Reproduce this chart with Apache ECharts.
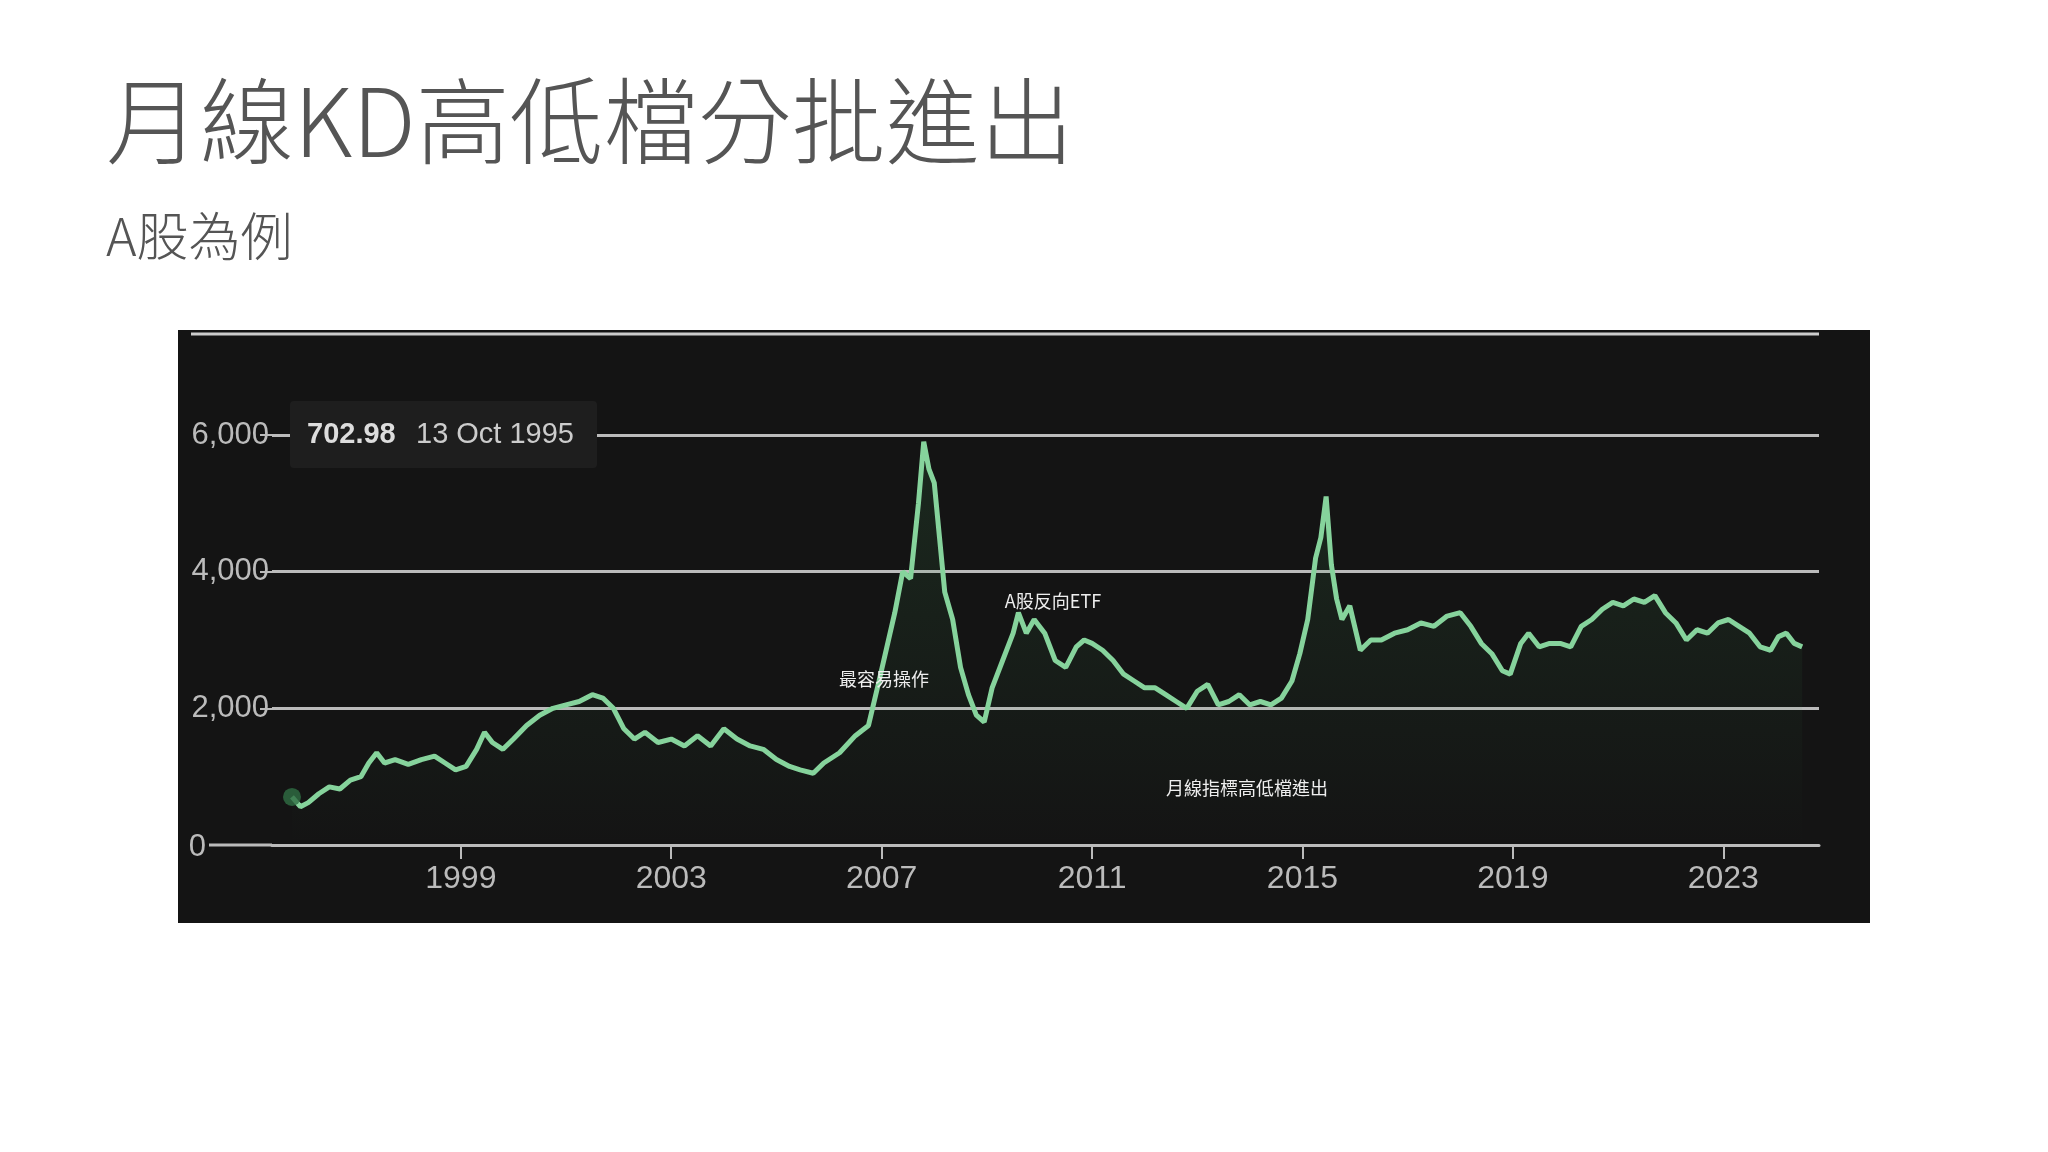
<!DOCTYPE html>
<html>
<head>
<meta charset="utf-8">
<script src="https://cdn.jsdelivr.net/npm/echarts@6/dist/echarts.min.js"></script>
<style>
html,body{margin:0;padding:0;background:#fff;}
#main{width:2048px;height:1152px;}
</style>
</head>
<body>
<div id="main"></div>
<script>
// decimal years and index values
const years = [1995.79, 1995.95, 1996.1, 1996.3, 1996.5, 1996.7, 1996.9, 1997.1, 1997.25, 1997.4, 1997.55, 1997.75, 1998.0, 1998.25, 1998.5, 1998.7, 1998.9, 1999.1, 1999.3, 1999.45, 1999.6, 1999.8, 2000.0, 2000.25, 2000.5, 2000.75, 2001.0, 2001.25, 2001.5, 2001.7, 2001.9, 2002.1, 2002.3, 2002.5, 2002.75, 2003.0, 2003.25, 2003.5, 2003.75, 2004.0, 2004.25, 2004.5, 2004.75, 2005.0, 2005.25, 2005.45, 2005.7, 2005.9, 2006.2, 2006.5, 2006.75, 2006.95, 2007.1, 2007.25, 2007.4, 2007.55, 2007.7, 2007.8, 2007.9, 2008.0, 2008.1, 2008.2, 2008.35, 2008.5, 2008.65, 2008.8, 2008.95, 2009.1, 2009.3, 2009.5, 2009.6, 2009.75, 2009.9, 2010.1, 2010.3, 2010.5, 2010.7, 2010.85, 2011.0, 2011.2, 2011.4, 2011.6, 2011.8, 2012.0, 2012.2, 2012.4, 2012.6, 2012.8, 2013.0, 2013.2, 2013.4, 2013.6, 2013.8, 2014.0, 2014.2, 2014.4, 2014.6, 2014.8, 2014.95, 2015.1, 2015.25, 2015.35, 2015.45, 2015.55, 2015.65, 2015.75, 2015.9, 2016.1, 2016.3, 2016.5, 2016.75, 2017.0, 2017.25, 2017.5, 2017.75, 2018.0, 2018.2, 2018.4, 2018.6, 2018.8, 2018.95, 2019.15, 2019.3, 2019.5, 2019.7, 2019.9, 2020.1, 2020.3, 2020.5, 2020.7, 2020.9, 2021.1, 2021.3, 2021.5, 2021.7, 2021.9, 2022.1, 2022.3, 2022.5, 2022.7, 2022.9, 2023.1, 2023.3, 2023.5, 2023.7, 2023.9, 2024.05, 2024.2, 2024.35, 2024.5, 2024.65];
const values = [703, 560, 620, 750, 850, 820, 950, 1000, 1200, 1350, 1200, 1250, 1180, 1250, 1300, 1200, 1100, 1150, 1400, 1650, 1500, 1400, 1550, 1750, 1900, 2000, 2050, 2100, 2200, 2150, 2000, 1700, 1550, 1650, 1500, 1550, 1450, 1600, 1450, 1700, 1550, 1450, 1400, 1250, 1150, 1100, 1050, 1200, 1350, 1600, 1750, 2400, 2900, 3400, 4000, 3900, 5000, 5900, 5500, 5300, 4500, 3700, 3300, 2600, 2200, 1900, 1800, 2300, 2700, 3100, 3400, 3100, 3300, 3100, 2700, 2600, 2900, 3000, 2950, 2850, 2700, 2500, 2400, 2300, 2300, 2200, 2100, 2000, 2250, 2350, 2050, 2100, 2200, 2050, 2100, 2050, 2150, 2400, 2800, 3300, 4200, 4500, 5100, 4100, 3600, 3300, 3500, 2850, 3000, 3000, 3100, 3150, 3250, 3200, 3350, 3400, 3200, 2950, 2800, 2550, 2500, 2950, 3100, 2900, 2950, 2950, 2900, 3200, 3300, 3450, 3550, 3500, 3600, 3550, 3650, 3400, 3250, 3000, 3150, 3100, 3250, 3300, 3200, 3100, 2900, 2850, 3050, 3100, 2950, 2900];
const yearTicks = [1999, 2003, 2007, 2011, 2015, 2019, 2023];
const notes = [
  { text: '最容易操作', x: 884, y: 679 },
  { text: 'A股反向ETF', x: 1053, y: 601 },
  { text: '月線指標高低檔進出', x: 1247, y: 788 }
];

const chart = echarts.init(document.getElementById('main'));
const cjk = '"Noto Sans CJK TC", sans-serif';
const lat = '"Liberation Sans", Arial, sans-serif';

chart.setOption({
  backgroundColor: '#fff',
  animation: false,
  graphic: [
    { type: 'text', left: 106, top: 74, style: { text: '月線KD高低檔分批進出', font: '200 94px ' + cjk, fill: '#555' } },
    { type: 'text', left: 106, top: 210, style: { text: 'A股為例', font: '200 52px ' + cjk, fill: '#555' } },
    { type: 'rect', z: -10, shape: { x: 178, y: 330, width: 1692, height: 593 }, style: { fill: '#141414' } },
    { type: 'line', shape: { x1: 191, y1: 334, x2: 1819, y2: 334 }, style: { stroke: '#ccc', lineWidth: 3 } },
    { type: 'line', shape: { x1: 209, y1: 845, x2: 272, y2: 845 }, style: { stroke: '#bbb', lineWidth: 3 } },
    { type: 'text', x: 206, y: 847, style: { text: '0', font: '31px ' + lat, fill: '#bbb', align: 'right', verticalAlign: 'middle' } },
    { type: 'rect', z: 10, shape: { x: 290, y: 401, width: 307, height: 67, r: 4 }, style: { fill: '#1e1e1e' } },
    { type: 'text', z: 11, left: 307, top: 420, style: { text: '702.98', font: 'bold 29px ' + lat, fill: '#ddd' } },
    { type: 'text', z: 11, left: 416, top: 420, style: { text: '13 Oct 1995', font: '29px ' + lat, fill: '#ccc' } }
  ].concat(notes.map(n => ({
    type: 'text', z: 12, x: n.x, y: n.y,
    style: { text: n.text, font: '18px ' + cjk, fill: '#eee', align: 'center', verticalAlign: 'middle' }
  }))),
  grid: { left: 272, right: 229, top: 435, bottom: 307 },
  xAxis: {
    type: 'value', min: 1995.41, max: 2024.82,
    axisLine: { lineStyle: { color: '#bbb', width: 3 } },
    splitLine: { show: false },
    axisTick: { customValues: yearTicks, length: 14, lineStyle: { color: '#bbb', width: 2 } },
    axisLabel: { customValues: yearTicks, color: '#bbb', fontSize: 32, fontFamily: lat, margin: 18, formatter: v => String(v) }
  },
  yAxis: {
    type: 'value', min: 0, max: 6000, interval: 2000,
    axisLine: { show: false },
    axisTick: { show: true, length: 12, lineStyle: { color: '#bbb', width: 2 } },
    axisLabel: { color: '#bbb', fontSize: 31, fontFamily: lat, margin: 3, formatter: v => v === 0 ? '' : v.toLocaleString('en-US') },
    splitLine: { lineStyle: { color: '#bbb', width: 3 } }
  },
  series: [
    {
      type: 'line',
      data: years.map((y, i) => [y, values[i]]),
      showSymbol: false,
      lineStyle: { color: '#86d39c', width: 5 },
      areaStyle: {
        color: new echarts.graphic.LinearGradient(0, 0, 0, 1, [
          { offset: 0, color: 'rgba(60,140,80,0.25)' },
          { offset: 1, color: 'rgba(60,140,80,0)' }
        ])
      },
      z: 3
    },
    {
      type: 'scatter',
      data: [[years[0], values[0]]],
      symbolSize: 18,
      itemStyle: { color: '#2f6e43' },
      z: 4
    }
  ]
});
</script>
</body>
</html>
